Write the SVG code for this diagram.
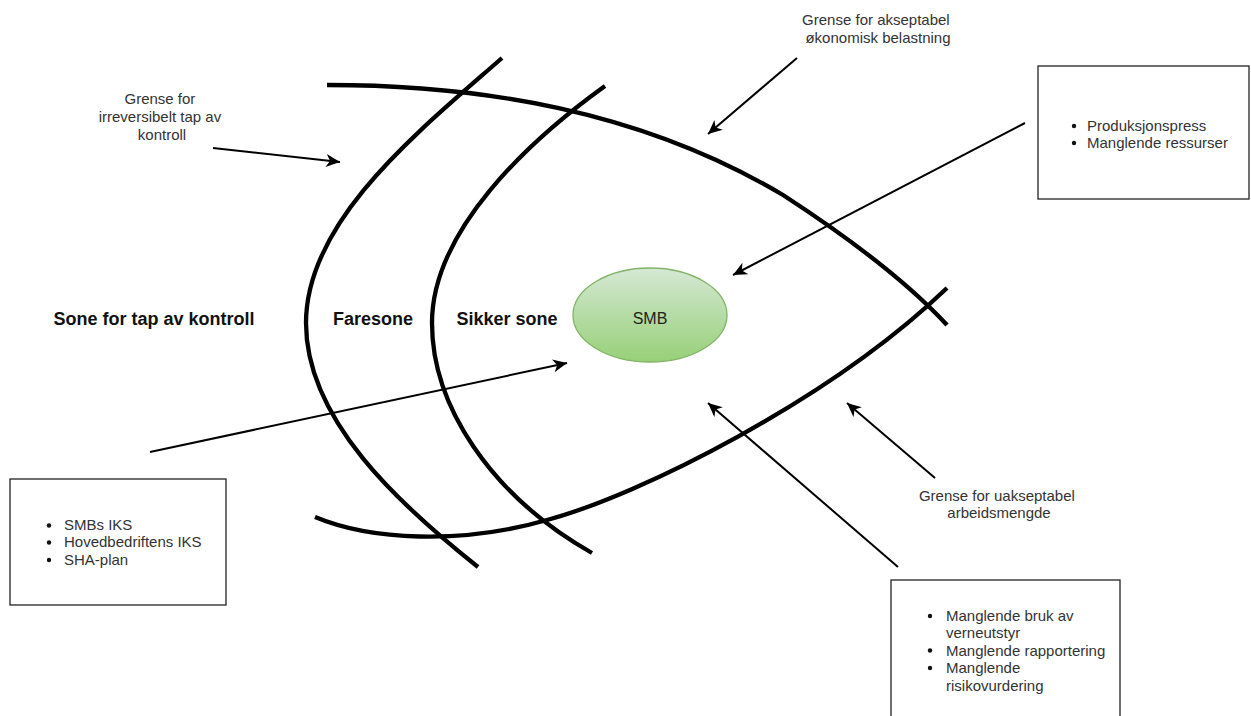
<svg xmlns="http://www.w3.org/2000/svg" width="1251" height="716" viewBox="0 0 1251 716">
  <defs>
    <linearGradient id="smbFill" x1="0" y1="0" x2="0" y2="1">
      <stop offset="0" stop-color="#d5e8d4"/>
      <stop offset="1" stop-color="#97d077"/>
    </linearGradient>
    <marker id="arrowHead" markerUnits="userSpaceOnUse" markerWidth="16" markerHeight="14" refX="14" refY="6.5" orient="auto">
      <path d="M0,0 L14,6.5 L0,13 L4,6.5 Z" fill="#000"/>
    </marker>
    <style>
      .boundary { fill: none; stroke: #000; stroke-width: 4.3; stroke-linecap: butt; }
      .arrow { fill: none; stroke: #000; stroke-width: 2; marker-end: url(#arrowHead); }
      .box { fill: #fff; stroke: #222; stroke-width: 1.3; }
      .note { font-family: "Liberation Sans", Arial, sans-serif; font-size: 15px; fill: #333; }
      .zone { font-family: "Liberation Sans", Arial, sans-serif; font-size: 18px; font-weight: bold; fill: #111; }
      .bullet { fill: #111; }
    </style>
  </defs>

  <!-- boundary curves -->
  <g id="boundaries">
    <path class="boundary" d="M327,85 C480,85 640,110 783,195 C860,245 910,285 947,325"/>
    <path class="boundary" d="M315,517 C370,540 460,545 547,520 C640,495 830,400 947,288"/>
    <path class="boundary" d="M502,58 C420,130 306,220 306,323 C306,420 400,505 478,567"/>
    <path class="boundary" d="M605,86 C530,140 432,230 432,323 C432,405 490,495 592,553"/>
  </g>

  <!-- zone labels -->
  <g id="zone-loss">
    <text class="zone" x="154" y="325" text-anchor="middle">Sone for tap av kontroll</text>
  </g>
  <g id="zone-danger">
    <text class="zone" x="373" y="325" text-anchor="middle">Faresone</text>
  </g>
  <g id="zone-safe">
    <text class="zone" x="507" y="325" text-anchor="middle">Sikker sone</text>
  </g>

  <!-- central company -->
  <g id="smb">
    <ellipse cx="650" cy="315" rx="77" ry="47" fill="url(#smbFill)" stroke="#82b366" stroke-width="1.3"/>
    <text x="650" y="324" text-anchor="middle" font-family="Liberation Sans, Arial, sans-serif" font-size="16" fill="#222">SMB</text>
  </g>

  <!-- boundary descriptions -->
  <g id="label-irreversible">
    <text class="note" text-anchor="middle">
      <tspan x="162" y="104">Grense for</tspan>
      <tspan x="162" y="122">irreversibelt tap av</tspan>
      <tspan x="162" y="140">kontroll</tspan>
    </text>
  </g>
  <g id="label-economic">
    <text class="note" text-anchor="middle">
      <tspan x="878" y="25">Grense for akseptabel</tspan>
      <tspan x="878" y="43">økonomisk belastning</tspan>
    </text>
  </g>
  <g id="label-workload">
    <text class="note" text-anchor="middle">
      <tspan x="999" y="501">Grense for uakseptabel</tspan>
      <tspan x="999" y="518">arbeidsmengde</tspan>
    </text>
  </g>

  <!-- pressure factors -->
  <g id="box-pressure">
    <rect class="box" x="1038" y="66" width="211" height="133"/>
    <circle class="bullet" cx="1074" cy="126" r="2.2"/>
    <circle class="bullet" cx="1074" cy="143" r="2.2"/>
    <text class="note" x="1087" y="131">Produksjonspress</text>
    <text class="note" x="1087" y="148">Manglende ressurser</text>
  </g>

  <!-- control systems -->
  <g id="box-control">
    <rect class="box" x="10" y="479" width="216" height="126"/>
    <circle class="bullet" cx="49" cy="525.5" r="2.2"/>
    <circle class="bullet" cx="49" cy="542.5" r="2.2"/>
    <circle class="bullet" cx="49" cy="560" r="2.2"/>
    <text class="note" x="64" y="530">SMBs IKS</text>
    <text class="note" x="64" y="547">Hovedbedriftens IKS</text>
    <text class="note" x="64" y="565">SHA-plan</text>
  </g>

  <!-- deficiencies -->
  <g id="box-deficiencies">
    <rect class="box" x="891" y="580" width="229" height="150"/>
    <circle class="bullet" cx="930" cy="616" r="2.2"/>
    <circle class="bullet" cx="930" cy="650.5" r="2.2"/>
    <circle class="bullet" cx="930" cy="668" r="2.2"/>
    <text class="note">
      <tspan x="946" y="621">Manglende bruk av</tspan>
      <tspan x="946" y="638">verneutstyr</tspan>
      <tspan x="946" y="655.5">Manglende rapportering</tspan>
      <tspan x="946" y="673">Manglende</tspan>
      <tspan x="946" y="690.5">risikovurdering</tspan>
    </text>
  </g>

  <!-- connectors -->
  <g id="connectors">
    <line class="arrow" x1="213" y1="148" x2="340" y2="162"/>
    <line class="arrow" x1="797" y1="58" x2="708" y2="134"/>
    <line class="arrow" x1="1025" y1="123" x2="733" y2="275"/>
    <line class="arrow" x1="150" y1="452" x2="567" y2="363"/>
    <line class="arrow" x1="898" y1="567" x2="708" y2="403"/>
    <line class="arrow" x1="935" y1="478" x2="847" y2="403"/>
  </g>
</svg>
